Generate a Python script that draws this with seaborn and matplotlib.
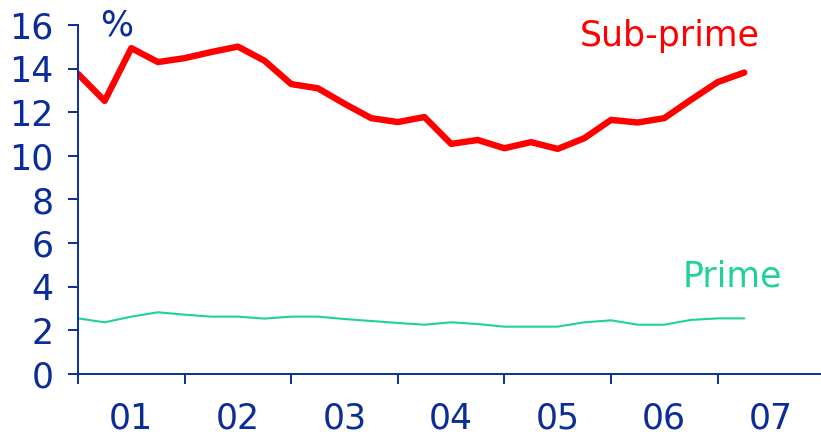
import numpy as np
import pandas as pd
import matplotlib.pyplot as plt
import seaborn as sns

# quarterly data, 2001 Q1 to 2007 Q2
quarters = [2001 + i * 0.25 for i in range(26)]
sub_prime = [13.76, 12.52, 14.94, 14.30, 14.48, 14.76, 15.01, 14.36, 13.29, 13.10,
             12.39, 11.73, 11.55, 11.78, 10.55, 10.73, 10.35, 10.63, 10.32, 10.81,
             11.65, 11.53, 11.73, 12.57, 13.38, 13.82]
prime = [2.55, 2.37, 2.63, 2.83, 2.72, 2.63, 2.63, 2.54, 2.63, 2.63,
         2.52, 2.43, 2.34, 2.26, 2.37, 2.29, 2.17, 2.17, 2.17, 2.37,
         2.46, 2.26, 2.26, 2.48, 2.55, 2.55]
year_labels = ['01', '02', '03', '04', '05', '06', '07']

navy = '#0a2d9a'
red = '#ff0000'
green = '#1fd19b'

sns.set_style('white')
plt.rcParams['font.family'] = ['DejaVu Sans']

df = pd.DataFrame({'quarter': quarters, 'Sub-prime': sub_prime, 'Prime': prime})

fig = plt.figure(figsize=(8.21, 4.36), dpi=100)
ax = fig.add_axes([78 / 821, 1 - 374 / 436, 1 - 78 / 821, (374 - 25) / 436])

sns.lineplot(data=df, x='quarter', y='Sub-prime', color=red, lw=4.6, ax=ax,
             solid_capstyle='round')
sns.lineplot(data=df, x='quarter', y='Prime', color=green, lw=1.5, ax=ax)

ax.set_xlim(2001, 2007.97)
ax.set_ylim(0, 16)
ax.set_xlabel('')
ax.set_ylabel('')

for s in ['top', 'right']:
    ax.spines[s].set_visible(False)
for s in ['left', 'bottom']:
    ax.spines[s].set_color(navy)
    ax.spines[s].set_linewidth(1.4)

ax.set_yticks(range(0, 17, 2))
ax.set_xticks(range(2001, 2008))
ax.set_xticklabels([])
ax.set_xticks([y + 0.5 for y in range(2001, 2008)], minor=True)
ax.set_xticklabels(year_labels, minor=True)
ax.tick_params(axis='y', which='major', direction='out', length=7.5, width=1.4,
               color=navy, labelcolor=navy, labelsize=25, pad=10, left=True)
ax.tick_params(axis='x', which='major', direction='out', length=7.5, width=1.4,
               color=navy, bottom=True)
ax.tick_params(axis='x', which='minor', length=0, labelcolor=navy,
               labelsize=25, pad=20)

ax.text(0.03, 1.0, '%', transform=ax.transAxes, color=navy, fontsize=25,
        ha='left', va='center')
ax.text(2006.55, 15.5, 'Sub-prime', color=red, fontsize=25, ha='center', va='center')
ax.text(2007.14, 4.45, 'Prime', color=green, fontsize=25, ha='center', va='center')

fig.savefig('out.png', dpi=100)
